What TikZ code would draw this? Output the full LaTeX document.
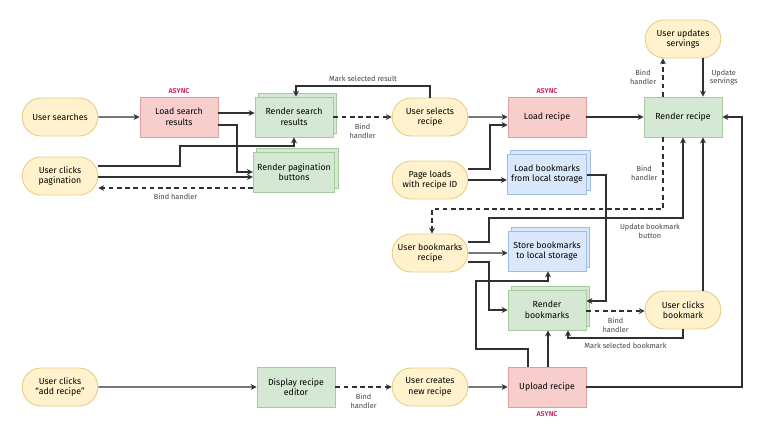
\documentclass[tikz,border=0pt]{standalone}
\usepackage{fontspec}
\setmainfont{Fira Sans}
\usetikzlibrary{positioning,shapes.misc,shadows,arrows.meta}
\definecolor{evfill}{HTML}{FFF2CC}\definecolor{evdraw}{HTML}{E6CF8C}
\definecolor{asfill}{HTML}{F8CECC}\definecolor{asdraw}{HTML}{DDA0A0}
\definecolor{rnfill}{HTML}{D5E8D4}\definecolor{rndraw}{HTML}{A6CC9E}
\definecolor{stfill}{HTML}{DAE8FC}\definecolor{stdraw}{HTML}{9FBDE3}
\definecolor{asynctxt}{HTML}{D0306A}
\definecolor{ln}{HTML}{303030}
\begin{document}
\begin{tikzpicture}
		[x=0.03cm,y=-0.03cm,
		font=\fontsize{7.5}{9}\selectfont,
		event/.style={rounded rectangle,draw=evdraw,fill=evfill,thick,align=center,minimum width=2.34cm,minimum height=1.14cm,inner sep=1pt},
		async/.style={rectangle,draw=asdraw,fill=asfill,thick,align=center,minimum width=2.34cm,minimum height=1.2cm},
		render/.style={rectangle,draw=rndraw,fill=rnfill,thick,align=center,minimum width=2.34cm,minimum height=1.2cm},
		stack/.style={copy shadow={shadow xshift=3pt,shadow yshift=3pt,draw=#1,thick}},
		store/.style={rectangle,draw=stdraw,fill=stfill,thick,align=center,minimum width=2.34cm,minimum height=1.2cm,stack=stdraw},
		tag/.style={text=asynctxt,font=\fontsize{6}{7}\selectfont\bfseries},
		lbl/.style={font=\fontsize{6.3}{7.5}\selectfont,text=ln!90,align=center},
		flow/.style={draw=ln,line width=1.1pt,-{Stealth[length=5pt,width=5pt]}},
		bind/.style={flow,dashed,dash pattern=on 4pt off 3pt}]
		\useasboundingbox (0,0) rectangle (770,439);

		% search
		\node [event] (us) at (60,117) {User searches};
		\node [async] (lsr) at (179,117) {Load search\\results};
		\node [tag] at (179,91) {ASYNC};
		\node [render,stack=rndraw] (rsr) at (294,117) {Render search\\results};
		\node [event] (ucp) at (60,176) {User clicks\\pagination};
		\node [render,stack=rndraw] (rpb) at (294,172) {Render pagination\\buttons};
		\node [event] (usr) at (430,117) {User selects\\recipe};

		% recipe
		\node [async] (lr) at (547,117) {Load recipe};
		\node [tag] at (547,91) {ASYNC};
		\node [render] (rr) at (683,117) {Render recipe};
		\node [event] (uus) at (683,39) {User updates\\servings};
		\node [event] (pl) at (430,180) {Page loads\\with recipe ID};

		% bookmarks
		\node [store] (lb) at (547,174) {Load bookmarks\\from local storage};
		\node [event] (ub) at (430,253) {User bookmarks\\recipe};
		\node [store] (sb) at (547,251) {Store bookmarks\\to local storage};
		\node [render,stack=rndraw] (rb) at (547,310) {Render\\bookmarks};
		\node [event] (ucb) at (683,310) {User clicks\\bookmark};

		% upload
		\node [event] (uca) at (60,387) {User clicks\\``add recipe''};
		\node [render] (dre) at (296,387) {Display recipe\\editor};
		\node [event] (ucn) at (430,387) {User creates\\new recipe};
		\node [async] (ur) at (547,387) {Upload recipe};
		\node [tag] at (547,414) {ASYNC};

		\draw [flow] (us) -- (lsr);
		\draw [flow] (lsr.east |- 0,113) -- (rsr.west |- 0,113);
		\draw [flow] (lsr.east |- 0,125) -| (237,172) -- (rpb.west |- 0,172);
		\draw [flow] (ucp.east |- 0,166) -| (180,146) -| (rsr.south);
		\draw [flow] (ucp.east |- 0,177) -- (rpb.west |- 0,177);
		\draw [bind] (rpb.west |- 0,188) -- (ucp.east |- 0,188) node [lbl,midway,below=1pt] {Bind handler};
		\draw [bind] (rsr) -- (usr) node [lbl,midway,below=2pt] {Bind\\handler};
		\draw [flow] (usr.north) |- (296,86) node [lbl,pos=0.75,above] {Mark selected result} -- (rsr.north -| 296,0);

		\draw [flow] (usr) -- (lr);
		\draw [flow] (pl.east |- 0,169) -| (490,125) -- (lr.west |- 0,125);
		\draw [flow] (pl.east |- 0,180) -- (lb.west |- 0,180);
		\draw [flow] (lr) -- (rr);
		\draw [bind] (rr.north -| 663,0) -- (uus.south -| 663,0) node [lbl,midway,left=2pt] {Bind\\handler};
		\draw [flow] (uus.south -| 703,0) -- (rr.north -| 703,0) node [lbl,midway,right=2pt] {Update\\servings};
		\draw [flow] (ur) -| (742,117) -- (rr);

		\draw [bind] (rr.south -| 663,0) |- (432,209) node [lbl,pos=0.25,left=1pt] {Bind\\handler} -- (ub.north -| 432,0);
		\draw [flow] (ub.east |- 0,242) -| (489,218) -| (rr.south -| 683,0);
		\node [lbl] at (650,231) {Update bookmark\\button};
		\draw [flow] (ub) -- (sb.west |- ub);
		\draw [flow] (ub.east |- 0,262) -| (489,310) -- (rb.west |- 0,310);
		\draw [flow] (lb.east |- 0,175) -| (606,301) -- (rb.east |- 0,301);
		\draw [bind] (rb.east |- 0,311) -- (ucb.west |- 0,311) node [lbl,midway,below=2pt] {Bind\\handler};
		\draw [flow] (ucb.south) |- (568,338) node [lbl,pos=0.75,below] {Mark selected bookmark} -- (rb.south -| 568,0);
		\draw [flow] (ucb.north -| 703,0) -- (rr.south -| 703,0);
		\draw [flow] (ur.north -| 528,0) |- (476,349) |- (548,281) -- (sb.south -| 548,0);
		\draw [flow] (ur.north -| 548,0) -- (rb.south -| 548,0);

		\draw [flow] (uca) -- (dre);
		\draw [bind] (dre) -- (ucn) node [lbl,midway,below=2pt] {Bind\\handler};
		\draw [flow] (ucn) -- (ur);
	\end{tikzpicture}
\end{document}
